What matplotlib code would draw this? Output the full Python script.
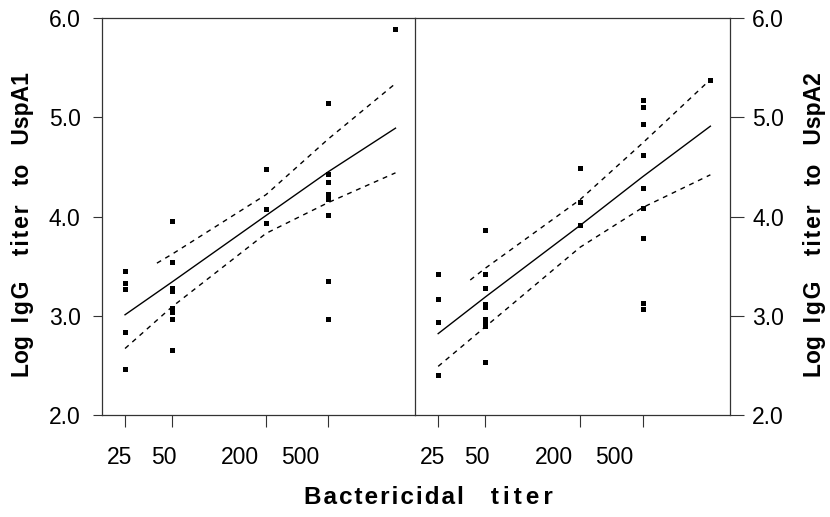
import numpy as np
import matplotlib.pyplot as plt

plt.rcParams.update({"font.family": ["Liberation Sans", "DejaVu Sans"],
                     "axes.linewidth": 0.9, "axes.edgecolor": "0.2"})

# bactericidal titer columns and antibody levels
uspa1_x = [25] * 5 + [50] * 8 + [200] * 3 + [500] * 8 + [1350]
uspa1_y = [3.45, 3.33, 3.27, 2.84, 2.46,
           3.95, 3.54, 3.28, 3.25, 3.08, 3.04, 2.97, 2.65,
           4.48, 4.08, 3.93,
           5.14, 4.43, 4.35, 4.23, 4.18, 4.02, 3.35, 2.97,
           5.89]
uspa2_x = [25] * 4 + [50] * 9 + [200] * 3 + [500] * 9 + [1350]
uspa2_y = [3.42, 3.17, 2.94, 2.40,
           3.86, 3.42, 3.28, 3.12, 3.09, 2.97, 2.94, 2.90, 2.53,
           4.49, 4.15, 3.91,
           5.17, 5.10, 4.93, 4.62, 4.29, 4.09, 3.78, 3.13, 3.07,
           5.38]

# regression line and 95% band
fit_x = [25, 50, 200, 500, 1350]
band_x = [40, 50, 200, 500, 1350]
fit1 = [3.01, 3.34, 4.01, 4.45, 4.89]
hi1 = [3.53, 3.62, 4.22, 4.78, 5.34]
lo1 = [2.67, 3.09, 3.83, 4.14, 4.44]
fit2 = [2.82, 3.19, 3.91, 4.40, 4.91]
hi2 = [3.36, 3.48, 4.17, 4.74, 5.38]
lo2 = [2.49, 2.89, 3.69, 4.09, 4.42]

xticks = [25, 50, 200, 500]
xticklabels = ["25", "50", "200", "500"]
# the scanned labels sit a bit left of their tick marks
label_at = [23, 44, 137, 330]
yticks = [2.0, 3.0, 4.0, 5.0, 6.0]

HS = "\u200a"  # hair space, the scan's type is loosely tracked


def spaced(word, n=1):
    return (HS * n).join(word)


W, H = 830, 517
fig = plt.figure(figsize=(W / 100, H / 100), dpi=100)
axL = fig.add_axes([102 / W, 102 / H, 313 / W, 397 / H])
axR = fig.add_axes([415 / W, 102 / H, 315 / W, 397 / H])
axR.spines["left"].set_visible(False)
axR.patch.set_visible(False)

panels = [(axL, uspa1_x, uspa1_y, fit1, hi1, lo1),
          (axR, uspa2_x, uspa2_y, fit2, hi2, lo2)]
for ax, px, py, fit, hi, lo in panels:
    ax.plot(px, py, "s", color="k", ms=3.6, mew=0)
    ax.plot(fit_x, fit, color="k", lw=1.0)
    ax.plot(band_x, hi, color="k", lw=1.0, ls=(0, (3.5, 3.5)))
    ax.plot(fit_x, lo, color="k", lw=1.0, ls=(0, (3.5, 3.5)))
    ax.set_xscale("log")
    ax.set_xlim(17.8, 1800)
    ax.set_ylim(2.0, 6.0)
    ax.set_xticks(xticks)
    ax.set_xticklabels([])
    ax.set_xticks(label_at, minor=True)
    ax.set_xticklabels(xticklabels, minor=True, fontsize=16.5)
    ax.tick_params(axis="x", which="major", direction="out", length=8.5,
                   width=0.8, color="0.2")
    ax.tick_params(axis="x", which="minor", length=0, pad=22)
    ax.set_yticks(yticks)
    ax.set_yticklabels([f"{v:.1f}" for v in yticks], fontsize=16.5)

axL.tick_params(axis="y", direction="out", length=6.5, width=0.8,
                color="0.2", pad=9)
axR.yaxis.tick_right()
axR.tick_params(axis="y", direction="out", length=10, width=0.8,
                color="0.2", pad=6)

fig.text(428 / W, 1 - 497 / H,
         spaced("Bactericidal") + "    " + spaced("titer", 2),
         ha="center", va="center", fontsize=17.5, fontweight="bold")
for x, name in [(23, "UspA1"), (814, "UspA2")]:
    label = ("Log  " + spaced("IgG") + "    " + spaced("titer")
             + "   to   " + name)
    fig.text(x / W, 1 - 225 / H, label, rotation=90,
             ha="center", va="center", fontsize=16.5, fontweight="bold")

fig.savefig("out.png", dpi=100)
